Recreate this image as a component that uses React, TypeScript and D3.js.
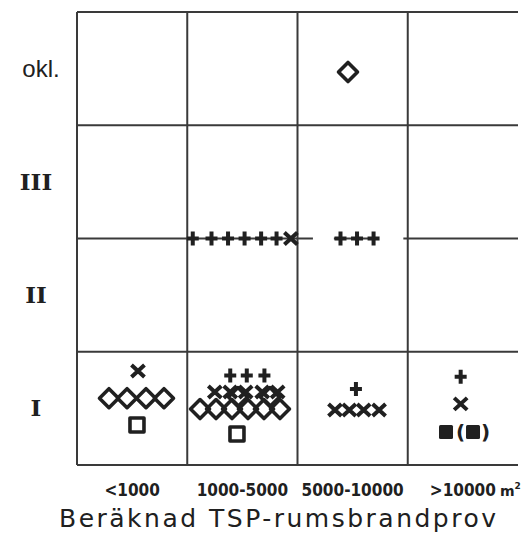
import React from "react";
import * as d3 from "d3";

const W = 528;
const H = 537;

// Area classes along x, fire classes along y
const COLUMNS = ["<1000", "1000-5000", "5000-10000", ">10000"];
const CLASSES = ["I", "II", "III", "okl."];
const UNIT = "m";
const X_TITLE = "Beräknad TSP-rumsbrandprov";

// Points as [column coordinate 0–4, class coordinate 0–4]; 2.0 is the II/III border
const plusPts: [number, number][] = [
  [1.05, 2], [1.22, 2], [1.37, 2], [1.52, 2], [1.67, 2], [1.81, 2],
  [2.39, 2], [2.54, 2], [2.69, 2],
  [1.39, 0.79], [1.54, 0.79], [1.7, 0.79],
  [2.53, 0.67],
  [3.48, 0.78],
];
const crossPts: [number, number][] = [
  [1.94, 2],
  [0.553, 0.83],
  [1.25, 0.645], [1.39, 0.645], [1.53, 0.645], [1.68, 0.645], [1.82, 0.645],
  [2.34, 0.486], [2.47, 0.486], [2.6, 0.486], [2.74, 0.486],
  [3.48, 0.54],
];
const diamondPts: [number, number][] = [
  [2.458, 3.47],
  [0.29, 0.59], [0.454, 0.59], [0.626, 0.59], [0.789, 0.59],
  [1.116, 0.494], [1.261, 0.494], [1.406, 0.494], [1.551, 0.494], [1.696, 0.494], [1.841, 0.494],
  [1.46, 0.6], [1.75, 0.6],
];
const squarePts: [number, number][] = [
  [0.544, 0.353],
  [1.451, 0.274],
];
// filled squares; the flag marks the one shown in parentheses
const filledPts: [number, number, boolean][] = [
  [3.347, 0.291, false],
  [3.592, 0.291, true],
];
// the II/III border line is broken around the plus markers
const borderSegments: [number, number][] = [
  [0, 2.14], [2.33, 2.72], [2.96, 4],
];

const INK = "#202020";
const GRID = "#3a3a3a";

export default function App() {
  const x = d3.scaleLinear().domain([0, 4]).range([77, 518]);
  const y = d3.scaleLinear().domain([0, 4]).range([465, 12]);

  const plus = (cx: number, cy: number) =>
    `M${cx - 6},${cy}H${cx + 6}M${cx},${cy - 7}V${cy + 7}`;
  const cross = (cx: number, cy: number) =>
    `M${cx - 6.5},${cy - 6}L${cx + 6.5},${cy + 6}M${cx - 6.5},${cy + 6}L${cx + 6.5},${cy - 6}`;
  const diamond = (cx: number, cy: number) =>
    `M${cx},${cy - 9.5}L${cx + 9.5},${cy}L${cx},${cy + 9.5}L${cx - 9.5},${cy}Z`;

  return (
    <svg width={W} height={H} style={{ position: "absolute", left: 0, top: 0, background: "#fff" }}>
      <rect width={W} height={H} fill="#fff" />
      {/* grid */}
      <g stroke={GRID} strokeWidth={2} fill="none">
        {[0, 1, 2, 3].map((c) => (
          <line key={"v" + c} x1={x(c)} x2={x(c)} y1={y(0)} y2={y(4)} />
        ))}
        {[0, 1, 3, 4].map((r) => (
          <line key={"h" + r} x1={x(0)} x2={x(4)} y1={y(r)} y2={y(r)} />
        ))}
        {borderSegments.map(([a, b], i) => (
          <line key={"b" + i} x1={x(a)} x2={x(b)} y1={y(2)} y2={y(2)} />
        ))}
      </g>

      {/* class labels */}
      {CLASSES.map((c, i) =>
        c === "okl." ? (
          <text key={c} x={41} y={y(i + 0.5)} dy="0.35em" textAnchor="middle"
            fontFamily="Liberation Sans, Arial, sans-serif" fontSize={24} fill={INK}>{c}</text>
        ) : (
          <text key={c} x={36} y={y(i + 0.5)} dy="0.35em" textAnchor="middle"
            fontFamily="DejaVu Serif, serif" fontWeight="bold" fontSize={23} fill={INK}>{c}</text>
        )
      )}

      {/* area labels */}
      {COLUMNS.map((c, i) => (
        <text key={c} x={x(i + 0.5)} y={496} textAnchor="middle"
          fontFamily="DejaVu Sans Condensed, DejaVu Sans, sans-serif" fontStretch="condensed"
          fontWeight={600} fontSize={17} fill={INK}>{c}</text>
      ))}
      <text x={x(3.5) + 37} y={496} fontFamily="DejaVu Sans, sans-serif" fontWeight={600}
        fontSize={14} fill={INK}>
        {UNIT}
        <tspan dy={-7} fontSize={9}>2</tspan>
      </text>
      <text x={x(2) - 20} y={527} textAnchor="middle" fontFamily="DejaVu Sans, sans-serif"
        fontSize={25} fill={INK} textLength={437} lengthAdjust="spacing">{X_TITLE}</text>

      {/* markers */}
      <g stroke={INK} strokeWidth={3.6} fill="none" strokeLinejoin="round">
        {diamondPts.map(([a, b], i) => (
          <path key={"d" + i} d={diamond(x(a), y(b))} />
        ))}
        {squarePts.map(([a, b], i) => (
          <rect key={"s" + i} x={x(a) - 7} y={y(b) - 7} width={14} height={14} />
        ))}
        {crossPts.map(([a, b], i) => (
          <path key={"c" + i} d={cross(x(a), y(b))} strokeWidth={4} />
        ))}
        {plusPts.map(([a, b], i) => (
          <path key={"p" + i} d={plus(x(a), y(b))} strokeWidth={4} />
        ))}
      </g>
      {filledPts.map(([a, b, paren], i) => (
        <g key={"f" + i}>
          <rect x={x(a) - 7} y={y(b) - 7} width={14} height={14} rx={1.5} fill={INK} />
          {paren && (
            <>
              <text x={x(a) - 8} y={y(b)} dy="0.35em" textAnchor="end"
                fontFamily="DejaVu Sans, sans-serif" fontSize={20} fontWeight="bold" fill={INK}>(</text>
              <text x={x(a) + 8} y={y(b)} dy="0.35em" textAnchor="start"
                fontFamily="DejaVu Sans, sans-serif" fontSize={20} fontWeight="bold" fill={INK}>)</text>
            </>
          )}
        </g>
      ))}
    </svg>
  );
}
